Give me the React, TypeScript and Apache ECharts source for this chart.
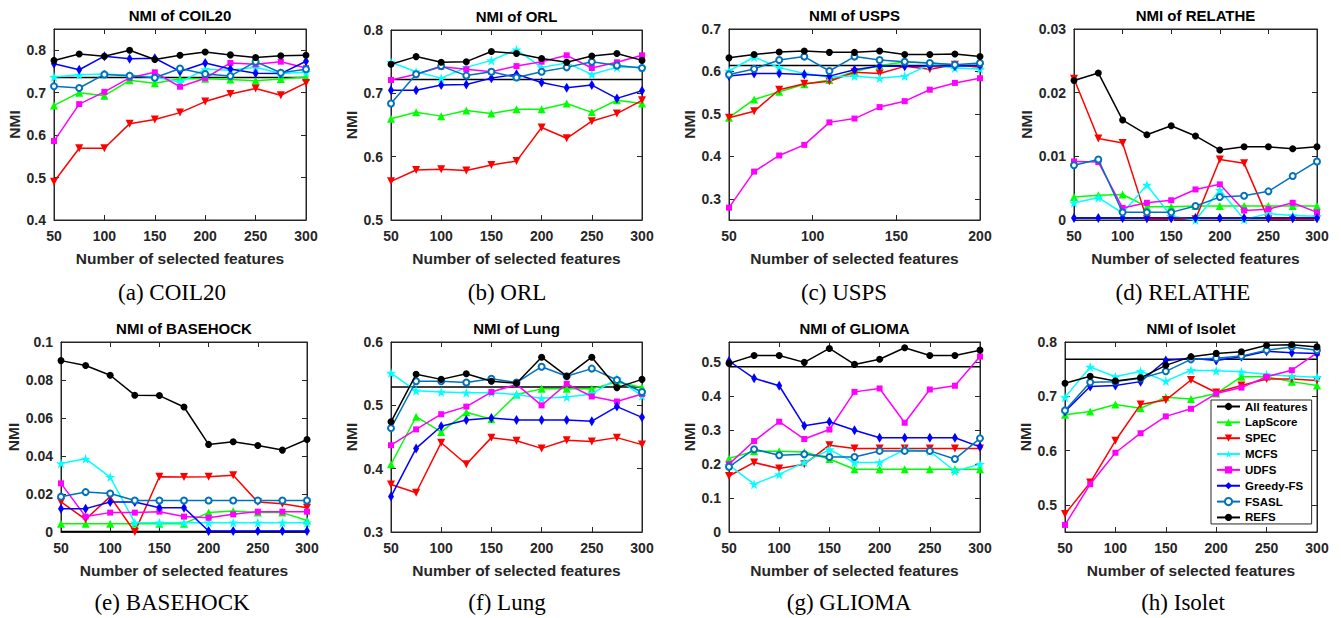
import React, { useEffect, useRef } from 'react';
import * as echarts from 'echarts';

// ---------- categories / ticks ----------
const METHODS = ['All features', 'LapScore', 'SPEC', 'MCFS', 'UDFS', 'Greedy-FS', 'FSASL', 'REFS'];
const DATASETS = ['COIL20', 'ORL', 'USPS', 'RELATHE', 'BASEHOCK', 'Lung', 'GLIOMA', 'Isolet'];
const CAPTIONS = ['(a) COIL20', '(b) ORL', '(c) USPS', '(d) RELATHE', '(e) BASEHOCK', '(f) Lung', '(g) GLIOMA', '(h) Isolet'];

const X_FEATURES = [50, 75, 100, 125, 150, 175, 200, 225, 250, 275, 300];
const X_FEATURES_USPS = [50, 65, 80, 95, 110, 125, 140, 155, 170, 185, 200];

const Y_TICKS_COIL20 = [0.4, 0.5, 0.6, 0.7, 0.8];
const Y_TICKS_ORL = [0.5, 0.6, 0.7, 0.8];
const Y_TICKS_USPS = [0.3, 0.4, 0.5, 0.6, 0.7];
const Y_TICKS_RELATHE = [0, 0.01, 0.02, 0.03];
const Y_TICKS_BASEHOCK = [0, 0.02, 0.04, 0.06, 0.08, 0.1];
const Y_TICKS_LUNG = [0.3, 0.4, 0.5, 0.6];
const Y_TICKS_GLIOMA = [0, 0.1, 0.2, 0.3, 0.4, 0.5];
const Y_TICKS_ISOLET = [0.5, 0.6, 0.7, 0.8];

// ---------- values ----------
const ALL_FEATURES = [0.736, 0.722, 0.614, 0.0003, 0.0002, 0.529, 0.487, 0.768];

const COIL20_LAPSCORE = [0.670, 0.700, 0.693, 0.729, 0.722, 0.733, 0.733, 0.731, 0.728, 0.732, 0.737];
const COIL20_SPEC = [0.490, 0.569, 0.569, 0.627, 0.637, 0.653, 0.679, 0.697, 0.710, 0.694, 0.723];
const COIL20_MCFS = [0.737, 0.742, 0.744, 0.741, 0.737, 0.725, 0.755, 0.753, 0.760, 0.745, 0.748];
const COIL20_UDFS = [0.586, 0.673, 0.702, 0.735, 0.748, 0.714, 0.734, 0.770, 0.767, 0.773, 0.758];
const COIL20_GREEDY = [0.768, 0.754, 0.786, 0.780, 0.781, 0.750, 0.770, 0.756, 0.746, 0.745, 0.774];
const COIL20_FSASL = [0.715, 0.711, 0.743, 0.740, 0.735, 0.757, 0.744, 0.739, 0.773, 0.747, 0.755];
const COIL20_REFS = [0.776, 0.791, 0.786, 0.800, 0.778, 0.788, 0.796, 0.789, 0.783, 0.787, 0.788];

const ORL_LAPSCORE = [0.660, 0.670, 0.664, 0.673, 0.668, 0.675, 0.675, 0.684, 0.670, 0.689, 0.684];
const ORL_SPEC = [0.561, 0.579, 0.580, 0.578, 0.587, 0.593, 0.646, 0.629, 0.656, 0.668, 0.689];
const ORL_MCFS = [0.749, 0.734, 0.724, 0.741, 0.752, 0.769, 0.741, 0.748, 0.730, 0.741, 0.741];
const ORL_UDFS = [0.721, 0.730, 0.742, 0.738, 0.734, 0.743, 0.750, 0.760, 0.740, 0.749, 0.760];
const ORL_GREEDY = [0.705, 0.705, 0.713, 0.714, 0.724, 0.730, 0.717, 0.709, 0.713, 0.692, 0.704];
const ORL_FSASL = [0.684, 0.730, 0.743, 0.728, 0.734, 0.725, 0.734, 0.741, 0.750, 0.744, 0.740];
const ORL_REFS = [0.746, 0.758, 0.749, 0.750, 0.766, 0.763, 0.755, 0.749, 0.759, 0.763, 0.752];

const USPS_LAPSCORE = [0.491, 0.534, 0.552, 0.570, 0.580, 0.600, 0.614, 0.622, 0.620, 0.616, 0.614];
const USPS_SPEC = [0.491, 0.506, 0.557, 0.571, 0.577, 0.598, 0.595, 0.612, 0.605, 0.616, 0.610];
const USPS_MCFS = [0.601, 0.634, 0.609, 0.595, 0.587, 0.589, 0.584, 0.589, 0.616, 0.608, 0.606];
const USPS_UDFS = [0.279, 0.364, 0.402, 0.427, 0.480, 0.489, 0.516, 0.530, 0.557, 0.573, 0.584];
const USPS_GREEDY = [0.589, 0.595, 0.595, 0.593, 0.589, 0.604, 0.613, 0.612, 0.613, 0.613, 0.614];
const USPS_FSASL = [0.593, 0.606, 0.627, 0.635, 0.601, 0.635, 0.627, 0.623, 0.620, 0.616, 0.620];
const USPS_REFS = [0.632, 0.640, 0.646, 0.648, 0.645, 0.645, 0.648, 0.640, 0.640, 0.641, 0.635];

const RELATHE_LAPSCORE = [0.0036, 0.0039, 0.0040, 0.0021, 0.0021, 0.0022, 0.0022, 0.0022, 0.0022, 0.0022, 0.0022];
const RELATHE_SPEC = [0.0222, 0.0128, 0.0121, 0.0001, 0.0001, 0.0001, 0.0095, 0.0089, 0.0001, 0.0001, 0.0001];
const RELATHE_MCFS = [0.0027, 0.0035, 0.0011, 0.0055, 0.0006, 0.0000, 0.0047, 0.0001, 0.0010, 0.0007, 0.0006];
const RELATHE_UDFS = [0.0092, 0.0091, 0.0019, 0.0027, 0.0031, 0.0048, 0.0056, 0.0015, 0.0017, 0.0027, 0.0012];
const RELATHE_GREEDY = [0.0003, 0.0003, 0.0003, 0.0003, 0.0003, 0.0003, 0.0003, 0.0003, 0.0003, 0.0003, 0.0003];
const RELATHE_FSASL = [0.0086, 0.0095, 0.0012, 0.0012, 0.0012, 0.0022, 0.0036, 0.0038, 0.0045, 0.0069, 0.0092];
const RELATHE_REFS = [0.0219, 0.0231, 0.0157, 0.0134, 0.0148, 0.0132, 0.0110, 0.0115, 0.0115, 0.0112, 0.0115];

const BASEHOCK_LAPSCORE = [0.0044, 0.0044, 0.0044, 0.0044, 0.0044, 0.0044, 0.0102, 0.0110, 0.0102, 0.0102, 0.0061];
const BASEHOCK_SPEC = [0.0158, 0.0067, 0.0186, 0.0000, 0.0291, 0.0289, 0.0291, 0.0299, 0.0158, 0.0149, 0.0128];
const BASEHOCK_MCFS = [0.0361, 0.0385, 0.0289, 0.0049, 0.0049, 0.0049, 0.0049, 0.0049, 0.0049, 0.0049, 0.0049];
const BASEHOCK_UDFS = [0.0256, 0.0081, 0.0102, 0.0102, 0.0107, 0.0081, 0.0075, 0.0093, 0.0107, 0.0107, 0.0107];
const BASEHOCK_GREEDY = [0.0123, 0.0123, 0.0158, 0.0158, 0.0128, 0.0128, 0.0005, 0.0005, 0.0005, 0.0005, 0.0005];
const BASEHOCK_FSASL = [0.0186, 0.0210, 0.0203, 0.0166, 0.0166, 0.0166, 0.0166, 0.0166, 0.0166, 0.0166, 0.0166];
const BASEHOCK_REFS = [0.0902, 0.0876, 0.0825, 0.0720, 0.0718, 0.0658, 0.0461, 0.0475, 0.0455, 0.0431, 0.0487];

const LUNG_LAPSCORE = [0.407, 0.482, 0.458, 0.489, 0.478, 0.517, 0.526, 0.526, 0.526, 0.537, 0.528];
const LUNG_SPEC = [0.375, 0.362, 0.441, 0.407, 0.449, 0.444, 0.432, 0.445, 0.443, 0.449, 0.438];
const LUNG_MCFS = [0.551, 0.523, 0.521, 0.520, 0.520, 0.517, 0.511, 0.513, 0.518, 0.542, 0.515];
const LUNG_UDFS = [0.437, 0.462, 0.486, 0.498, 0.521, 0.533, 0.500, 0.534, 0.514, 0.506, 0.518];
const LUNG_GREEDY = [0.356, 0.432, 0.467, 0.477, 0.480, 0.477, 0.477, 0.477, 0.475, 0.498, 0.481];
const LUNG_FSASL = [0.464, 0.538, 0.538, 0.536, 0.542, 0.536, 0.561, 0.546, 0.558, 0.540, 0.521];
const LUNG_REFS = [0.474, 0.549, 0.541, 0.550, 0.538, 0.535, 0.576, 0.546, 0.576, 0.528, 0.541];

const GLIOMA_LAPSCORE = [0.217, 0.238, 0.238, 0.236, 0.215, 0.185, 0.185, 0.185, 0.185, 0.185, 0.185];
const GLIOMA_SPEC = [0.165, 0.205, 0.187, 0.200, 0.256, 0.246, 0.246, 0.246, 0.246, 0.246, 0.246];
const GLIOMA_MCFS = [0.197, 0.141, 0.170, 0.205, 0.243, 0.205, 0.205, 0.243, 0.238, 0.179, 0.200];
const GLIOMA_UDFS = [0.200, 0.268, 0.325, 0.274, 0.302, 0.413, 0.423, 0.322, 0.420, 0.431, 0.517];
const GLIOMA_GREEDY = [0.504, 0.453, 0.431, 0.313, 0.325, 0.300, 0.278, 0.278, 0.278, 0.278, 0.251];
const GLIOMA_FSASL = [0.192, 0.244, 0.226, 0.229, 0.221, 0.221, 0.239, 0.239, 0.239, 0.215, 0.276];
const GLIOMA_REFS = [0.497, 0.520, 0.520, 0.500, 0.541, 0.494, 0.509, 0.543, 0.520, 0.520, 0.536];

const ISOLET_LAPSCORE = [0.666, 0.672, 0.685, 0.678, 0.698, 0.695, 0.705, 0.736, 0.736, 0.727, 0.720];
const ISOLET_SPEC = [0.483, 0.541, 0.618, 0.685, 0.693, 0.730, 0.707, 0.720, 0.732, 0.732, 0.729];
const ISOLET_MCFS = [0.698, 0.754, 0.736, 0.746, 0.728, 0.748, 0.747, 0.745, 0.740, 0.737, 0.735];
const ISOLET_UDFS = [0.463, 0.538, 0.596, 0.632, 0.663, 0.677, 0.705, 0.716, 0.736, 0.748, 0.780];
const ISOLET_GREEDY = [0.672, 0.718, 0.720, 0.727, 0.766, 0.770, 0.766, 0.773, 0.783, 0.780, 0.779];
const ISOLET_FSASL = [0.674, 0.726, 0.727, 0.733, 0.746, 0.768, 0.770, 0.774, 0.785, 0.791, 0.785];
const ISOLET_REFS = [0.724, 0.737, 0.728, 0.734, 0.757, 0.773, 0.779, 0.782, 0.794, 0.795, 0.791];

const CURVES = [
  [COIL20_LAPSCORE, COIL20_SPEC, COIL20_MCFS, COIL20_UDFS, COIL20_GREEDY, COIL20_FSASL, COIL20_REFS],
  [ORL_LAPSCORE, ORL_SPEC, ORL_MCFS, ORL_UDFS, ORL_GREEDY, ORL_FSASL, ORL_REFS],
  [USPS_LAPSCORE, USPS_SPEC, USPS_MCFS, USPS_UDFS, USPS_GREEDY, USPS_FSASL, USPS_REFS],
  [RELATHE_LAPSCORE, RELATHE_SPEC, RELATHE_MCFS, RELATHE_UDFS, RELATHE_GREEDY, RELATHE_FSASL, RELATHE_REFS],
  [BASEHOCK_LAPSCORE, BASEHOCK_SPEC, BASEHOCK_MCFS, BASEHOCK_UDFS, BASEHOCK_GREEDY, BASEHOCK_FSASL, BASEHOCK_REFS],
  [LUNG_LAPSCORE, LUNG_SPEC, LUNG_MCFS, LUNG_UDFS, LUNG_GREEDY, LUNG_FSASL, LUNG_REFS],
  [GLIOMA_LAPSCORE, GLIOMA_SPEC, GLIOMA_MCFS, GLIOMA_UDFS, GLIOMA_GREEDY, GLIOMA_FSASL, GLIOMA_REFS],
  [ISOLET_LAPSCORE, ISOLET_SPEC, ISOLET_MCFS, ISOLET_UDFS, ISOLET_GREEDY, ISOLET_FSASL, ISOLET_REFS],
];
const X_VALUES = [X_FEATURES, X_FEATURES, X_FEATURES_USPS, X_FEATURES, X_FEATURES, X_FEATURES, X_FEATURES, X_FEATURES];
const Y_TICKS = [Y_TICKS_COIL20, Y_TICKS_ORL, Y_TICKS_USPS, Y_TICKS_RELATHE, Y_TICKS_BASEHOCK, Y_TICKS_LUNG, Y_TICKS_GLIOMA, Y_TICKS_ISOLET];

// ---------- layout / style ----------
const PANELS = [
  { left: 54, top: 29, width: 252, height: 191, ymin: 0.4, ymax: 0.85, yGap: 31, capX: 172, capY: 292 },
  { left: 391, top: 30, width: 251, height: 190, ymin: 0.5, ymax: 0.8, yGap: 28, capX: 507, capY: 292 },
  { left: 729, top: 29, width: 251, height: 191, ymin: 0.25, ymax: 0.7, yGap: 30, capX: 844, capY: 292 },
  { left: 1074, top: 29, width: 243, height: 191, ymin: 0, ymax: 0.03, yGap: 38, capX: 1183, capY: 292 },
  { left: 61, top: 342, width: 246, height: 190, ymin: 0, ymax: 0.1, yGap: 38, capX: 172, capY: 602 },
  { left: 391, top: 342, width: 251, height: 190, ymin: 0.3, ymax: 0.6, yGap: 28, capX: 507, capY: 602 },
  { left: 729, top: 342, width: 251, height: 190, ymin: 0, ymax: 0.56, yGap: 31, capX: 849, capY: 602 },
  { left: 1065, top: 342, width: 252, height: 190, ymin: 0.45, ymax: 0.8, yGap: 28, capX: 1183, capY: 602 },
];

const COLORS = ['#000000', '#00ff00', '#ff0000', '#00ffff', '#ff00ff', '#0000ff', '#0072bd', '#000000'];
const STAR = 'path://M50 0L61.2 34.5L97.6 34.5L68.2 55.9L79.4 90.5L50 69.1L20.6 90.5L31.8 55.9L2.4 34.5L38.8 34.5Z';
const SYMBOLS: any[] = [
  { symbol: 'none', size: 0, rotate: 0 },
  { symbol: 'triangle', size: 8, rotate: 0 },
  { symbol: 'triangle', size: 8, rotate: 180 },
  { symbol: STAR, size: 10, rotate: 0 },
  { symbol: 'rect', size: 6, rotate: 0 },
  { symbol: 'diamond', size: [6, 10], rotate: 0 },
  { symbol: 'emptyCircle', size: 6, rotate: 0 },
  { symbol: 'circle', size: 7, rotate: 0 },
];

const SANS = '"Liberation Sans", Arial, Helvetica, sans-serif';
const SERIF = '"Liberation Serif", "Times New Roman", serif';
const AXIS_COLOR = '#262626';

function fmt(v: number) {
  return String(parseFloat(Number(v).toFixed(4)));
}

function buildOption() {
  const n = PANELS.length;
  const grid = PANELS.map((p) => ({
    left: p.left, top: p.top, width: p.width, height: p.height,
    show: true, borderColor: AXIS_COLOR, borderWidth: 1, backgroundColor: '#ffffff',
  }));
  const xAxis: any[] = [];
  const yAxis: any[] = [];
  const tickLine = { show: true, inside: true, length: 5, lineStyle: { color: AXIS_COLOR, width: 1 } };
  PANELS.forEach((p, i) => {
    const xs = X_VALUES[i];
    xAxis.push({
      type: 'value', gridIndex: i, min: xs[0], max: xs[xs.length - 1], interval: 50,
      axisLine: { show: true, onZero: false, lineStyle: { color: AXIS_COLOR, width: 1 } },
      axisTick: tickLine,
      axisLabel: { fontSize: 14, fontWeight: 'bold', color: AXIS_COLOR, margin: 9, fontFamily: SANS },
      splitLine: { show: false },
      name: 'Number of selected features', nameLocation: 'middle', nameGap: 30,
      nameTextStyle: { fontSize: 15.5, fontWeight: 'bold', color: AXIS_COLOR, fontFamily: SANS },
    });
    yAxis.push({
      type: 'value', gridIndex: i, min: p.ymin, max: p.ymax,
      axisLine: { show: true, onZero: false, lineStyle: { color: AXIS_COLOR, width: 1 } },
      axisTick: { ...tickLine, customValues: Y_TICKS[i] },
      axisLabel: {
        fontSize: 14, fontWeight: 'bold', color: AXIS_COLOR, margin: 8, fontFamily: SANS,
        customValues: Y_TICKS[i], formatter: (v: number) => fmt(v),
      },
      splitLine: { show: false },
      name: 'NMI', nameLocation: 'middle', nameGap: p.yGap,
      nameTextStyle: { fontSize: 15.5, fontWeight: 'bold', color: AXIS_COLOR, fontFamily: SANS },
    });
  });
  // mirrored top / right axes (tick marks only)
  PANELS.forEach((p, i) => {
    const xs = X_VALUES[i];
    xAxis.push({
      type: 'value', gridIndex: i, position: 'top', min: xs[0], max: xs[xs.length - 1], interval: 50,
      axisLine: { show: true, onZero: false, lineStyle: { color: AXIS_COLOR, width: 1 } },
      axisTick: tickLine, axisLabel: { show: false }, splitLine: { show: false },
    });
    yAxis.push({
      type: 'value', gridIndex: i, position: 'right', min: p.ymin, max: p.ymax,
      axisLine: { show: true, onZero: false, lineStyle: { color: AXIS_COLOR, width: 1 } },
      axisTick: { ...tickLine, customValues: Y_TICKS[i] },
      axisLabel: { show: false, customValues: Y_TICKS[i] }, splitLine: { show: false },
    });
  });

  const series: any[] = [];
  for (let i = 0; i < n; i++) {
    const xs = X_VALUES[i];
    METHODS.forEach((m, j) => {
      const st = SYMBOLS[j];
      let data: number[][];
      if (j === 0) {
        data = [[xs[0], ALL_FEATURES[i]], [xs[xs.length - 1], ALL_FEATURES[i]]];
      } else {
        const ys = CURVES[i][j - 1];
        data = xs.map((x, k) => [x, ys[k]]);
      }
      series.push({
        type: 'line', name: m, xAxisIndex: i, yAxisIndex: i, data,
        symbol: st.symbol, symbolSize: st.size, symbolRotate: st.rotate,
        showSymbol: j !== 0, showAllSymbol: true, clip: false,
        lineStyle: { color: COLORS[j], width: 1.5 },
        itemStyle: { color: COLORS[j], borderWidth: j === 6 ? 1.3 : 0 },
        emphasis: { disabled: true },
        animation: false,
        z: 2 + j * 0.01,
      });
    });
  }

  const graphic: any[] = [];
  PANELS.forEach((p, i) => {
    graphic.push({
      type: 'text', x: p.left + p.width / 2, y: p.top - 14,
      style: {
        text: 'NMI of ' + DATASETS[i], fontSize: 15, fontWeight: 'bold', fontFamily: SANS,
        fill: '#000000', align: 'center', verticalAlign: 'middle',
      },
    });
    graphic.push({
      type: 'text', x: p.capX, y: p.capY,
      style: {
        text: CAPTIONS[i], fontSize: 23, fontFamily: SERIF,
        fill: '#000000', align: 'center', verticalAlign: 'middle',
      },
    });
  });

  return {
    animation: false,
    backgroundColor: '#ffffff',
    grid, xAxis, yAxis, series, graphic,
    legend: {
      show: true, data: METHODS, orient: 'vertical', left: 1211, top: 400,
      itemWidth: 23, itemHeight: 9, itemGap: 2.85, padding: [0, 4, 0, 5],
      backgroundColor: '#ffffff', borderColor: AXIS_COLOR, borderWidth: 1, borderRadius: 0,
      selectedMode: false,
      textStyle: { fontSize: 11.5, fontWeight: 'bold', color: '#000000', fontFamily: SANS, lineHeight: 13 },
    },
  };
}

export default function App() {
  const ref = useRef<HTMLDivElement>(null);
  useEffect(() => {
    if (!ref.current) return;
    const chart = echarts.init(ref.current, null, { renderer: 'svg' });
    chart.setOption(buildOption() as any);
    return () => chart.dispose();
  }, []);
  return (
    <div
      ref={ref}
      style={{ position: 'absolute', left: 0, top: 0, width: 1341, height: 618, background: '#ffffff' }}
    />
  );
}
